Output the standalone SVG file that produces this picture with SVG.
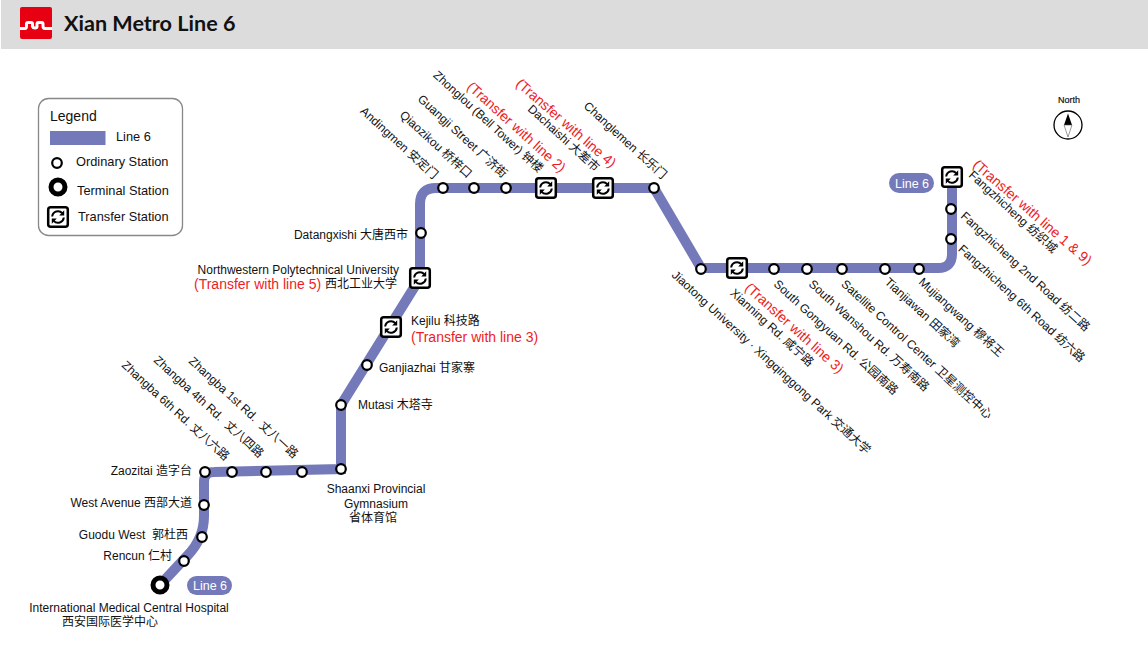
<svg xmlns="http://www.w3.org/2000/svg" width="1148" height="669" viewBox="0 0 1148 669">
<style>
text{font-family:"Liberation Sans","Noto Sans CJK SC",sans-serif;font-size:12px;fill:#111;white-space:pre}
.r{fill:#ee1c25;font-size:14px}
.c{text-anchor:middle}
.e{text-anchor:end}
.lg{font-size:12.8px}
.st{fill:#fff;stroke:#000;stroke-width:2.2}
.tb{fill:#fff;stroke:#000;stroke-width:2.5}
.ar{fill:none;stroke:#000;stroke-width:2}
.ah{fill:#000}
.pill{fill:#7479b9}
.pt{fill:#fff;font-size:12.5px;text-anchor:middle}
</style>
<defs>
<g id="tx">
<rect class="tb" x="-9.800" y="-9.800" width="19.600" height="19.600" rx="2.500"/>
<path class="ar" d="M-5.800,-0.500A5.800,5.800 0 0 1 4.300,-3.800M5.800,0.500A5.800,5.800 0 0 1 -4.300,3.800"/>
<path class="ah" d="M6.200,-6.800V-1.400H1.200ZM-6.200,6.800V1.400H-1.200Z"/>
</g>
</defs>
<rect x="1" y="0" width="1147" height="49" fill="#dcdcdc"/>
<g id="logo">
<rect x="20" y="7" width="32" height="32" rx="2" fill="#e60012"/>
<path d="M20,28.500H25Q26.500,28.500 26.500,26V24Q26.500,22.500 28,22.500H31Q32.500,22.500 32.500,24V26.500Q33,28 35,28Q37,28 37,26.500V24Q37,22.500 38.500,22.500H41.500Q43,22.500 43,24V26Q43,28.500 45,28.500H52" fill="none" stroke="#fff" stroke-width="3"/>
</g>
<text x="64" y="31" style="font-family:Lato,sans-serif;font-size:21.600px;font-weight:700;fill:#111">Xian Metro Line 6</text>

<g id="legend">
<rect x="38.500" y="98.500" width="144" height="137" rx="10" fill="#fff" stroke="#888" stroke-width="1.300"/>
<text x="50" y="121" style="font-size:14px">Legend</text>
<rect x="50" y="131" width="55.500" height="14" fill="#7479b9"/>
<text class="lg" x="116" y="141">Line 6</text>
<circle class="st" cx="57" cy="163" r="4.800"/>
<text class="lg" x="76" y="166">Ordinary Station</text>
<circle cx="58" cy="187" r="7" fill="#fff" stroke="#000" stroke-width="5"/>
<text class="lg" x="77" y="195">Terminal Station</text>
<use href="#tx" x="58" y="217"/>
<text class="lg" x="78" y="221">Transfer Station</text>
</g>

<g id="connectors">
<path d="M160,585L188,555Q204,538 204,516V482Q204,472 214,472L341,469V405L420,278V204Q420,188 436,188H654L701,268H938Q952,268 952,254V177" fill="none" stroke="#7479b9" stroke-width="10"/>
</g>

<g id="n-terminal-west"><circle cx="160" cy="585" r="7" fill="#fff" stroke="#000" stroke-width="5"/>
<text class="c" x="129" y="612">International Medical Central Hospital</text><text class="c" x="110" y="626">西安国际医学中心</text></g>
<rect x="187" y="576" width="45" height="19" rx="9.500" class="pill"/><text class="pt" x="210" y="590">Line 6</text>

<g id="n-rencun"><circle class="st" cx="184" cy="561" r="4.800"/><text class="e" x="172" y="560">Rencun 仁村</text></g>
<g id="n-guodu"><circle class="st" cx="202" cy="537" r="4.800"/><text class="e" x="188" y="539">Guodu West  郭杜西</text></g>
<g id="n-west"><circle class="st" cx="204" cy="505" r="4.800"/><text class="e" x="192" y="507">West Avenue 西部大道</text></g>
<g id="n-zaozitai"><circle class="st" cx="205" cy="472" r="4.800"/><text class="e" x="192" y="475">Zaozitai 造字台</text></g>
<g id="n-z6"><circle class="st" cx="232" cy="472" r="4.800"/><text transform="translate(121,366) rotate(42.500)">Zhangba 6th Rd. 丈八六路</text></g>
<g id="n-z4"><circle class="st" cx="266" cy="472" r="4.800"/><text transform="translate(153,361) rotate(42.500)">Zhangba 4th Rd.  丈八四路</text></g>
<g id="n-z1"><circle class="st" cx="302" cy="472" r="4.800"/><text transform="translate(188,362) rotate(42.500)">Zhangba 1st Rd.  丈八一路</text></g>
<g id="n-shaanxi"><circle class="st" cx="341" cy="469" r="4.800"/><text class="c" x="376" y="493">Shaanxi Provincial</text><text class="c" x="376" y="508">Gymnasium</text><text class="c" x="373" y="522">省体育馆</text></g>
<g id="n-mutasi"><circle class="st" cx="341" cy="405" r="4.800"/><text x="358" y="409">Mutasi 木塔寺</text></g>
<g id="n-ganjiazhai"><circle class="st" cx="367" cy="365" r="4.800"/><text x="379" y="372">Ganjiazhai 甘家寨</text></g>
<g id="n-kejilu"><use href="#tx" x="391" y="327"/><text x="411" y="325">Kejilu 科技路</text><text class="r" x="411" y="342">(Transfer with line 3)</text></g>
<g id="n-npu"><use href="#tx" x="420" y="278"/><text class="e" x="399" y="274">Northwestern Polytechnical University</text><text class="r" x="194" y="289">(Transfer with line 5)</text><text class="e" x="397" y="288">西北工业大学</text></g>
<g id="n-datang"><circle class="st" cx="421" cy="233" r="4.800"/><text class="e" x="408" y="239">Datangxishi 大唐西市</text></g>
<g id="n-anding"><circle class="st" cx="443" cy="188" r="4.800"/><text transform="translate(359.500,112) rotate(42.500)">Andingmen 安定门</text></g>
<g id="n-qiao"><circle class="st" cx="474" cy="188" r="4.800"/><text transform="translate(399,116) rotate(42.500)">Qiaozikou 桥梓口</text></g>
<g id="n-guangji"><circle class="st" cx="506" cy="188" r="4.800"/><text transform="translate(417,100) rotate(42.500)">Guangji Street 广济街</text></g>
<g id="n-zhonglou"><use href="#tx" x="546" y="188"/><text transform="translate(432.500,76) rotate(42.500)">Zhonglou (Bell Tower) 钟楼</text><text class="r" transform="translate(466,88) rotate(42)">(Transfer with line 2)</text></g>
<g id="n-dachaishi"><use href="#tx" x="603" y="188"/><text transform="translate(527,110) rotate(42.500)">Dachaishi 大差市</text><text class="r" transform="translate(515,85) rotate(41)">(Transfer with line 4)</text></g>
<g id="n-chang"><circle class="st" cx="654" cy="188" r="4.800"/><text transform="translate(583,107) rotate(42.500)">Changlemen 长乐门</text></g>
<g id="n-jiaotong"><circle class="st" cx="701" cy="269" r="4.800"/><text transform="translate(671,276) rotate(42.500)">Jiaotong University · Xingqinggong Park 交通大学</text></g>
<g id="n-xianning"><use href="#tx" x="737" y="268"/><text transform="translate(729.500,294) rotate(42.500)">Xianning Rd. 咸宁路</text><text class="r" transform="translate(744,289) rotate(42)">(Transfer with line 3)</text></g>
<g id="n-gongyuan"><circle class="st" cx="774" cy="269" r="4.800"/><text transform="translate(773,285) rotate(42.500)">South Gongyuan Rd. 公园南路</text></g>
<g id="n-wanshou"><circle class="st" cx="807" cy="269" r="4.800"/><text transform="translate(808,285) rotate(42.500)">South Wanshou Rd. 万寿南路</text></g>
<g id="n-satellite"><circle class="st" cx="842" cy="269" r="4.800"/><text transform="translate(840.500,285) rotate(42.500)">Satellite Control Center 卫星测控中心</text></g>
<g id="n-tianjia"><circle class="st" cx="885" cy="269" r="4.800"/><text transform="translate(884,283) rotate(42.500)">Tianjiawan 田家湾</text></g>
<g id="n-mujiang"><circle class="st" cx="919" cy="269" r="4.800"/><text transform="translate(918,283) rotate(42.500)">Mujiangwang 穆将王</text></g>
<g id="n-f6"><circle class="st" cx="951" cy="239" r="4.800"/><text transform="translate(957.500,250) rotate(42.500)">Fangzhicheng 6th Road 纺六路</text></g>
<g id="n-f2"><circle class="st" cx="951" cy="209" r="4.800"/><text transform="translate(960,217) rotate(42.500)">Fangzhicheng 2nd Road 纺二路</text></g>
<g id="n-f"><use href="#tx" x="952" y="177"/><text transform="translate(968,176) rotate(42.500)">Fangzhicheng 纺织城</text><text class="r" transform="translate(972,166) rotate(41)">(Transfer with line 1 &amp; 9)</text></g>
<rect x="889" y="173" width="45" height="20" rx="10" class="pill"/><text class="pt" x="912" y="188">Line 6</text>

<g id="north">
<text class="c" x="1069" y="103" style="font-size:9px;stroke:#111;stroke-width:.2">North</text>
<circle cx="1068" cy="125" r="14" fill="#fff" stroke="#000" stroke-width="1.300"/>
<path d="M1068,113.500L1064,125H1072Z" fill="#000"/>
<path d="M1064,125H1072L1068,137Z" fill="#fff" stroke="#555" stroke-width=".6"/>
</g>
</svg>
